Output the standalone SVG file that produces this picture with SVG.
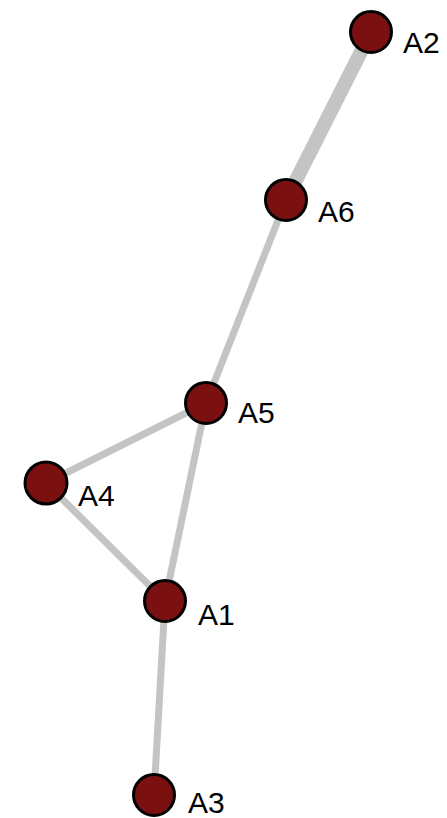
<svg xmlns="http://www.w3.org/2000/svg" width="447" height="818" viewBox="0 0 447 818">
<style>
.e{stroke:#c4c4c4;fill:none;stroke-linecap:butt}
.n{fill:#7a1010;stroke:#000;stroke-width:3}
.l{font-family:"Liberation Sans",Arial,sans-serif;font-size:30px;fill:#000}
</style>
<rect width="447" height="818" fill="#fff"/>
<g id="edges">
<line class="e" x1="371" y1="32" x2="286" y2="200" stroke-width="14"/>
<line class="e" x1="286" y1="200" x2="206" y2="403" stroke-width="7"/>
<line class="e" x1="206" y1="403" x2="46" y2="483" stroke-width="7"/>
<line class="e" x1="206" y1="403" x2="165" y2="601" stroke-width="7"/>
<line class="e" x1="46" y1="483" x2="165" y2="601" stroke-width="7"/>
<line class="e" x1="165" y1="601" x2="154" y2="795" stroke-width="7"/>
</g>
<g id="A2"><circle class="n" cx="371" cy="32" r="20.5"/><text class="l" x="403" y="53">A2</text></g>
<g id="A6"><circle class="n" cx="286" cy="200" r="20.5"/><text class="l" x="318" y="222">A6</text></g>
<g id="A5"><circle class="n" cx="206" cy="403" r="20.5"/><text class="l" x="238" y="423">A5</text></g>
<g id="A4"><circle class="n" cx="46" cy="483" r="21"/><text class="l" x="78" y="506">A4</text></g>
<g id="A1"><circle class="n" cx="165" cy="601" r="20.5"/><text class="l" x="198" y="625">A1</text></g>
<g id="A3"><circle class="n" cx="154" cy="795" r="20.5"/><text class="l" x="188" y="813">A3</text></g>
</svg>
